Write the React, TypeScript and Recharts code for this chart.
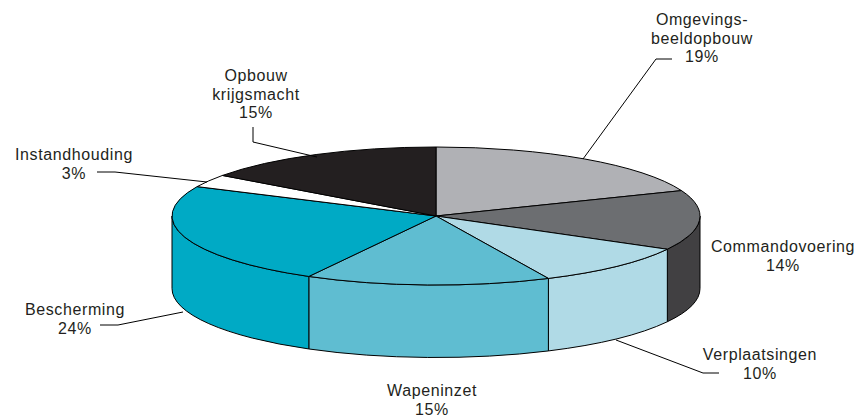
import React from 'react';
import { PieChart, Pie } from 'recharts';

const RADIAN = Math.PI / 180;

const categories = ['Omgevingsbeeldopbouw', 'Commandovoering', 'Verplaatsingen', 'Wapeninzet', 'Bescherming', 'Instandhouding', 'Opbouw krijgsmacht'];
const shares = [19, 14, 10, 15, 24, 3, 15];
const topColors = ['#b0b1b5', '#6c6e71', '#b0dae6', '#5fbdd1', '#00aac5', '#ffffff', '#231f20'];
const wallColors = ['#808285', '#414042', '#b0dae6', '#5fbdd1', '#00aac5', '#ffffff', '#231f20'];

// label text lines, one list per slice
const labelLines = [
  ['Omgevings-', 'beeldopbouw', '19%'],
  ['Commandovoering', '14%'],
  ['Verplaatsingen', '10%'],
  ['Wapeninzet', '15%'],
  ['Bescherming', '24%'],
  ['Instandhouding', '3%'],
  ['Opbouw', 'krijgsmacht', '15%'],
];
const labelAnchors = [
  { x: 702, y: 25 },
  { x: 783, y: 252 },
  { x: 760, y: 360 },
  { x: 432, y: 396 },
  { x: 75, y: 315 },
  { x: 74, y: 160 },
  { x: 256, y: 81 },
];
const leaders = [
  '583,159 656,59 672,59',
  '',
  '616,340 703,373 719,373',
  '',
  '183,312 118,325 100,325',
  '97,172 115,172 207,182',
  '253,127 253,142 317,157',
];

const CX = 436;
const CY = 216;
const RX = 264;
const RY = 69;
const DEPTH = 72.5;
const LINE_HEIGHT = 18.5;

const tableData = categories.map((name, i) => ({
  name,
  value: shares[i],
  top: topColors[i],
  wall: wallColors[i],
}));

const pt = (a: number, dy = 0) => {
  const x = CX + RX * Math.cos(a * RADIAN);
  const y = CY - RY * Math.sin(a * RADIAN) + dy;
  return `${x} ${y}`;
};

// squashed sector, the recharts Sector can only do circles
const TopSlice = (props: any) => {
  const { startAngle, endAngle, payload } = props;
  const large = startAngle - endAngle > 180 ? 1 : 0;
  const d = `M${CX} ${CY} L${pt(startAngle)} A${RX} ${RY} 0 ${large} 1 ${pt(endAngle)} Z`;
  return <path d={d} fill={payload.top} stroke="#000" strokeWidth={1} strokeLinejoin="round" />;
};

// outer wall, only the part on the front half is visible
const WallSlice = (props: any) => {
  const { startAngle, endAngle, payload } = props;
  const a0 = Math.min(startAngle, 0);
  const a1 = Math.max(endAngle, -180);
  if (a0 <= a1) return <g />;
  const d =
    `M${pt(a0)} A${RX} ${RY} 0 0 1 ${pt(a1)} ` +
    `L${pt(a1, DEPTH)} A${RX} ${RY} 0 0 0 ${pt(a0, DEPTH)} Z`;
  return <path d={d} fill={payload.wall} stroke="#000" strokeWidth={1} strokeLinejoin="round" />;
};

const renderLabel = (props: any) => {
  const { index } = props;
  const anchor = labelAnchors[index];
  return (
    <g key={`label-${index}`}>
      {leaders[index] && <polyline points={leaders[index]} fill="none" stroke="#000" strokeWidth={1} />}
      <text
        textAnchor="middle"
        fontFamily='"Liberation Sans", Arial, sans-serif'
        fontSize={16}
        letterSpacing={0.6}
        fill="#231f20"
      >
        {labelLines[index].map((line, j) => (
          <tspan key={line} x={anchor.x} y={anchor.y + j * LINE_HEIGHT}>
            {line}
          </tspan>
        ))}
      </text>
    </g>
  );
};

export default function App() {
  return (
    <div style={{ position: 'absolute', left: 0, top: 0 }}>
      <PieChart width={865} height={416} margin={{ top: 0, right: 0, bottom: 0, left: 0 }}>
        <Pie
          data={tableData}
          dataKey="value"
          nameKey="name"
          cx={CX}
          cy={CY}
          innerRadius={0}
          outerRadius={RX}
          startAngle={90}
          endAngle={-270}
          shape={WallSlice}
          label={false}
          labelLine={false}
          isAnimationActive={false}
        />
        <Pie
          data={tableData}
          dataKey="value"
          nameKey="name"
          cx={CX}
          cy={CY}
          innerRadius={0}
          outerRadius={RX}
          startAngle={90}
          endAngle={-270}
          shape={TopSlice}
          label={renderLabel}
          labelLine={false}
          isAnimationActive={false}
        />
      </PieChart>
    </div>
  );
}
